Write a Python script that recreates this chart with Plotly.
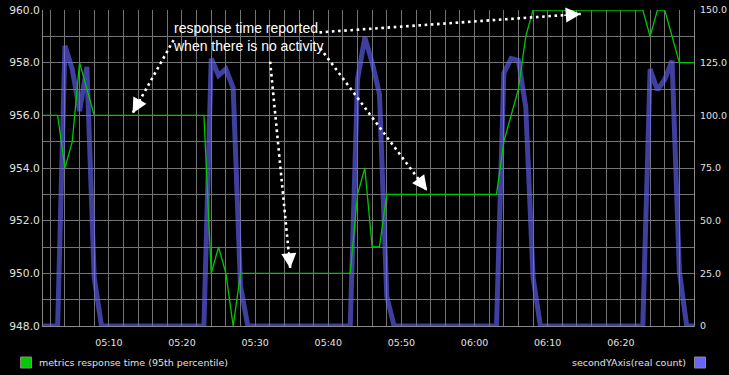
import plotly.graph_objects as go
import pandas as pd

# ---- data ----
start_time = "2013-01-01 05:01"
n_points = 90
times = pd.date_range(start_time, periods=n_points, freq="min")

response_time = (
    [956, 956, 956, 954, 955, 958, 957] + [956] * 16 +
    [950, 951, 950, 948] + [950] * 16 +
    [953, 954, 951, 951] + [953] * 16 +
    [955, 956, 957, 959] + [960] * 16 +
    [959, 960, 960, 959] + [958] * 3
)
real_count = (
    [0, 0, 0, 133, 122, 102, 123, 23] + [0] * 15 +
    [127, 119, 122, 113, 19] + [0] * 15 +
    [117, 137, 125, 110, 14] + [0] * 15 +
    [120, 127, 126, 104, 23] + [0] * 15 +
    [122, 112, 117, 126, 26, 0, 0]
)

x_tick_labels = ["05:10", "05:20", "05:30", "05:40", "05:50", "06:00", "06:10", "06:20"]
left_ticks = [948, 950, 952, 954, 956, 958, 960]
right_ticks = [0, 25, 50, 75, 100, 125, 150]
right_ticktext = ["0", "25.0", "50.0", "75.0", "100.0", "125.0", "150.0"]

series_names = ["metrics response time (95th percentile)", "secondYAxis(real count)"]
note_text = "response time reported<br>when there is no activity"

day = "2013-01-01 "
x_tick_vals = [pd.Timestamp(day + s) for s in x_tick_labels]

# annotation arrows: (tail minute, tail value, tip minute, tip value, head dx, head dy)
base = pd.Timestamp(day + "05:00")
arrows = [
    (18.85, 958.86, 13.25, 956.08, 8.7, -15.7),
    (32.05, 958.04, 34.8, 950.19, -1.7, -17.9),
    (38.9, 958.55, 53.52, 953.14, -10.8, -14.4),
    (38.8, 959.15, 74.52, 959.85, -18.0, 1.3),
]

GRID = "#747474"
TXT = "#e0e0e0"

fig = go.Figure()
fig.add_trace(go.Scatter(
    x=times, y=real_count, yaxis="y", mode="lines",
    line=dict(color="rgba(102,102,255,0.62)", width=5),
    name=series_names[1], showlegend=False, hoverinfo="skip"))
fig.add_trace(go.Scatter(
    x=times, y=response_time, yaxis="y2", mode="lines",
    line=dict(color="#00c800", width=1.3),
    name=series_names[0], showlegend=False, hoverinfo="skip"))

shapes = []
annotations = []
for (tm, tv, hm, hv, ax, ay) in arrows:
    t0 = base + pd.Timedelta(minutes=tm)
    t1 = base + pd.Timedelta(minutes=hm)
    shapes.append(dict(type="line", xref="x", yref="y2", x0=t0, y0=tv, x1=t1, y1=hv,
                       line=dict(color="white", width=2.6, dash="2.6px,3.6px")))
    annotations.append(dict(xref="x", yref="y2", x=t1, y=hv, text="", showarrow=True,
                            ax=ax, ay=ay, arrowhead=2, arrowwidth=1.5, arrowsize=2,
                            arrowcolor="white"))

annotations.append(dict(xref="x", yref="y2", x=base + pd.Timedelta(minutes=18.45), y=958.96,
                        text=note_text, showarrow=False, xanchor="left", yanchor="middle",
                        align="left", font=dict(family="Liberation Sans", size=14, color="white")))

# legend (left and right)
shapes.append(dict(type="rect", xref="paper", yref="paper",
                   x0=(20.5 - 43) / 651, x1=(31.5 - 43) / 651,
                   y0=(326 - 357) / 316, y1=(326 - 368) / 316,
                   fillcolor="#00cc00", line=dict(color="#888888", width=1)))
annotations.append(dict(xref="paper", yref="paper", x=(36.5 - 43) / 651, y=(326 - 362.5) / 316,
                        text=series_names[0], showarrow=False, xanchor="left", yanchor="middle",
                        font=dict(family="DejaVu Sans", size=9.5, color=TXT)))
shapes.append(dict(type="rect", xref="paper", yref="paper",
                   x0=(694.5 - 43) / 651, x1=(705.5 - 43) / 651,
                   y0=(326 - 357) / 316, y1=(326 - 368) / 316,
                   fillcolor="#6666ff", line=dict(color="#888888", width=1)))
annotations.append(dict(xref="paper", yref="paper", x=(688 - 43) / 651, y=(326 - 362.5) / 316,
                        text=series_names[1], showarrow=False, xanchor="right", yanchor="middle",
                        font=dict(family="DejaVu Sans", size=9.5, color=TXT)))

fig.update_layout(
    width=729, height=375,
    margin=dict(l=43, r=35, t=10, b=49, autoexpand=False),
    paper_bgcolor="black", plot_bgcolor="black",
    font=dict(family="DejaVu Sans", color=TXT),
    showlegend=False,
    shapes=shapes, annotations=annotations,
    xaxis=dict(
        range=[times[0], times[-1]],
        tickvals=x_tick_vals, ticktext=x_tick_labels,
        showgrid=True, gridcolor=GRID, gridwidth=1,
        minor=dict(dtick=120000, tick0=day + "05:00", showgrid=True, gridcolor=GRID),
        showline=True, linecolor="#888888", ticks="",
        tickfont=dict(size=9.5, color=TXT), ticklabelstandoff=8,
        zeroline=False, automargin=False,
    ),
    yaxis=dict(
        side="right", range=[0, 150], tickvals=right_ticks, ticktext=right_ticktext,
        showgrid=False, zeroline=False, showline=True, linecolor="#888888", ticks="",
        tickfont=dict(size=9.5, color=TXT), ticklabelstandoff=3, automargin=False,
    ),
    yaxis2=dict(
        side="left", overlaying="y", range=[948, 960], tickvals=left_ticks, tickformat=".1f",
        showgrid=True, gridcolor=GRID,
        minor=dict(dtick=1, tick0=948, showgrid=True, gridcolor=GRID),
        zeroline=False, showline=True, linecolor="#888888", ticks="",
        tickfont=dict(size=10.7, color=TXT), ticklabelstandoff=0, automargin=False,
    ),
)

fig.write_html(
    "out.html",
    config={"displayModeBar": False, "staticPlot": True},
    post_script="document.body.style.margin='0';document.body.style.background='black';",
)
